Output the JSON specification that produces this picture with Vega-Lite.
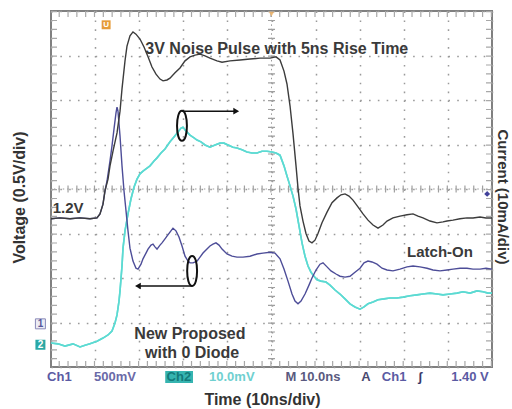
{
  "$schema": "https://vega.github.io/schema/vega-lite/v6.json",
  "width": 441,
  "height": 356,
  "autosize": "none",
  "padding": {"left": 51, "top": 11, "right": 20, "bottom": 42},
  "background": "white",
  "config": {
    "view": {"stroke": "#808080", "strokeWidth": 2},
    "text": {"font": "Liberation Sans"}
  },
  "data": {"values": [{"k": 1}]},
  "datasets": {
    "ch2": [
      {"t":0,"v":-3.46},{"t":1.59,"v":-3.48},{"t":3.17,"v":-3.53},{"t":4.99,"v":-3.48},{"t":6.58,"v":-3.55},{"t":7.71,"v":-3.51},{"t":8.84,"v":-3.48},{"t":10.43,"v":-3.42},{"t":11.79,"v":-3.35},{"t":12.93,"v":-3.28},{"t":13.83,"v":-3.19},{"t":14.51,"v":-3.01},{"t":14.97,"v":-2.83},{"t":15.42,"v":-2.52},{"t":15.65,"v":-2.29},{"t":16.10,"v":-1.73},{"t":16.33,"v":-1.33},{"t":16.78,"v":-0.94},{"t":17.46,"v":-0.56},{"t":18.14,"v":-0.22},{"t":18.82,"v":0.04},{"t":19.50,"v":0.22},{"t":20.18,"v":0.34},{"t":20.86,"v":0.40},{"t":21.77,"v":0.47},{"t":22.45,"v":0.52},{"t":23.36,"v":0.63},{"t":24.04,"v":0.70},{"t":24.94,"v":0.81},{"t":25.85,"v":0.90},{"t":26.98,"v":1.06},{"t":27.89,"v":1.17},{"t":28.80,"v":1.28},{"t":29.48,"v":1.37},{"t":29.93,"v":1.39},{"t":30.61,"v":1.30},{"t":31.52,"v":1.21},{"t":32.43,"v":1.15},{"t":33.11,"v":1.10},{"t":34.01,"v":1.06},{"t":34.92,"v":0.99},{"t":36.05,"v":0.94},{"t":37.19,"v":0.99},{"t":38.32,"v":1.03},{"t":39.23,"v":1.03},{"t":40.14,"v":0.99},{"t":41.27,"v":0.94},{"t":42.18,"v":0.92},{"t":43.31,"v":0.88},{"t":44.44,"v":0.83},{"t":45.58,"v":0.81},{"t":46.71,"v":0.81},{"t":47.85,"v":0.85},{"t":48.98,"v":0.85},{"t":50.11,"v":0.83},{"t":51.02,"v":0.81},{"t":51.93,"v":0.76},{"t":52.83,"v":0.52},{"t":53.51,"v":0.29},{"t":54.20,"v":0.07},{"t":54.88,"v":-0.16},{"t":55.56,"v":-0.45},{"t":56.24,"v":-0.83},{"t":56.92,"v":-1.21},{"t":57.60,"v":-1.51},{"t":58.28,"v":-1.73},{"t":58.96,"v":-1.87},{"t":59.64,"v":-1.96},{"t":60.32,"v":-2.04},{"t":61.22,"v":-2.07},{"t":62.36,"v":-2.09},{"t":63.27,"v":-2.16},{"t":64.40,"v":-2.27},{"t":65.53,"v":-2.36},{"t":66.67,"v":-2.47},{"t":67.80,"v":-2.58},{"t":68.93,"v":-2.65},{"t":70.07,"v":-2.70},{"t":70.98,"v":-2.65},{"t":71.88,"v":-2.58},{"t":73.02,"v":-2.54},{"t":74.15,"v":-2.49},{"t":75.51,"v":-2.47},{"t":76.87,"v":-2.45},{"t":78.46,"v":-2.45},{"t":79.82,"v":-2.43},{"t":81.41,"v":-2.40},{"t":82.99,"v":-2.38},{"t":84.35,"v":-2.36},{"t":85.94,"v":-2.34},{"t":87.53,"v":-2.36},{"t":88.89,"v":-2.38},{"t":90.48,"v":-2.36},{"t":92.06,"v":-2.34},{"t":93.42,"v":-2.31},{"t":95.01,"v":-2.34},{"t":96.60,"v":-2.29},{"t":97.96,"v":-2.31},{"t":99.09,"v":-2.34},{"t":100,"v":-2.34}
    ],
    "ch1": [
      {"t":0,"v":-0.67},{"t":2.04,"v":-0.65},{"t":4.31,"v":-0.67},{"t":6.58,"v":-0.65},{"t":8.84,"v":-0.67},{"t":10.43,"v":-0.65},{"t":11.11,"v":-0.56},{"t":11.79,"v":-0.34},{"t":12.24,"v":-0.04},{"t":12.70,"v":0.18},{"t":13.38,"v":0.63},{"t":13.83,"v":0.97},{"t":14.29,"v":1.35},{"t":14.74,"v":1.71},{"t":14.97,"v":1.84},{"t":15.19,"v":1.75},{"t":15.65,"v":1.19},{"t":16.10,"v":0.52},{"t":16.55,"v":-0.04},{"t":17.01,"v":-0.49},{"t":17.46,"v":-0.94},{"t":17.91,"v":-1.33},{"t":18.59,"v":-1.62},{"t":19.27,"v":-1.78},{"t":19.73,"v":-1.80},{"t":20.41,"v":-1.69},{"t":20.86,"v":-1.57},{"t":21.54,"v":-1.44},{"t":22.0,"v":-1.35},{"t":22.68,"v":-1.26},{"t":23.13,"v":-1.24},{"t":23.58,"v":-1.30},{"t":24.04,"v":-1.35},{"t":24.72,"v":-1.26},{"t":25.17,"v":-1.21},{"t":25.85,"v":-1.12},{"t":26.30,"v":-1.06},{"t":26.98,"v":-0.97},{"t":27.66,"v":-0.88},{"t":28.34,"v":-0.94},{"t":29.02,"v":-1.08},{"t":29.71,"v":-1.28},{"t":30.39,"v":-1.51},{"t":31.07,"v":-1.62},{"t":31.52,"v":-1.66},{"t":32.20,"v":-1.66},{"t":33.11,"v":-1.62},{"t":33.79,"v":-1.53},{"t":34.47,"v":-1.44},{"t":35.37,"v":-1.35},{"t":36.05,"v":-1.28},{"t":36.73,"v":-1.24},{"t":37.41,"v":-1.21},{"t":38.10,"v":-1.26},{"t":38.78,"v":-1.35},{"t":39.91,"v":-1.46},{"t":41.04,"v":-1.51},{"t":42.18,"v":-1.53},{"t":43.54,"v":-1.53},{"t":45.12,"v":-1.51},{"t":46.71,"v":-1.46},{"t":48.07,"v":-1.44},{"t":49.66,"v":-1.42},{"t":50.79,"v":-1.44},{"t":51.93,"v":-1.57},{"t":52.83,"v":-1.80},{"t":53.74,"v":-2.07},{"t":54.65,"v":-2.36},{"t":55.33,"v":-2.52},{"t":56.01,"v":-2.58},{"t":56.69,"v":-2.52},{"t":57.60,"v":-2.36},{"t":58.50,"v":-2.16},{"t":59.18,"v":-2.00},{"t":60.09,"v":-1.82},{"t":61.0,"v":-1.69},{"t":61.68,"v":-1.66},{"t":62.59,"v":-1.75},{"t":63.49,"v":-1.84},{"t":64.63,"v":-1.91},{"t":65.53,"v":-1.96},{"t":66.67,"v":-1.98},{"t":67.80,"v":-1.96},{"t":68.93,"v":-1.87},{"t":70.07,"v":-1.78},{"t":70.98,"v":-1.66},{"t":71.88,"v":-1.62},{"t":72.79,"v":-1.64},{"t":73.92,"v":-1.69},{"t":75.06,"v":-1.78},{"t":76.19,"v":-1.82},{"t":77.55,"v":-1.84},{"t":79.14,"v":-1.80},{"t":80.73,"v":-1.75},{"t":82.09,"v":-1.73},{"t":83.67,"v":-1.75},{"t":85.26,"v":-1.78},{"t":86.62,"v":-1.82},{"t":88.21,"v":-1.84},{"t":89.80,"v":-1.82},{"t":91.16,"v":-1.80},{"t":92.74,"v":-1.78},{"t":94.33,"v":-1.78},{"t":95.69,"v":-1.80},{"t":97.28,"v":-1.80},{"t":98.64,"v":-1.78},{"t":100,"v":-1.80}
    ],
    "pulse": [
      {"t":0,"v":-0.67},{"t":2.04,"v":-0.65},{"t":4.31,"v":-0.67},{"t":6.58,"v":-0.65},{"t":8.84,"v":-0.67},{"t":10.43,"v":-0.65},{"t":11.11,"v":-0.56},{"t":11.79,"v":-0.34},{"t":12.24,"v":-0.04},{"t":12.93,"v":0.22},{"t":13.38,"v":0.52},{"t":14.06,"v":0.85},{"t":14.97,"v":1.26},{"t":15.65,"v":1.75},{"t":16.10,"v":2.25},{"t":16.78,"v":2.88},{"t":17.23,"v":3.21},{"t":17.91,"v":3.44},{"t":18.59,"v":3.53},{"t":19.27,"v":3.48},{"t":20.18,"v":3.37},{"t":21.09,"v":3.19},{"t":22.0,"v":2.97},{"t":22.90,"v":2.74},{"t":23.81,"v":2.58},{"t":24.72,"v":2.47},{"t":25.40,"v":2.43},{"t":26.30,"v":2.45},{"t":26.98,"v":2.49},{"t":28.12,"v":2.61},{"t":29.25,"v":2.72},{"t":30.39,"v":2.88},{"t":31.52,"v":2.97},{"t":32.65,"v":3.01},{"t":33.79,"v":3.03},{"t":34.92,"v":2.99},{"t":36.05,"v":2.94},{"t":37.64,"v":2.88},{"t":38.78,"v":2.85},{"t":40.59,"v":2.88},{"t":42.86,"v":2.90},{"t":45.12,"v":2.92},{"t":47.39,"v":2.94},{"t":49.66,"v":2.94},{"t":51.02,"v":2.97},{"t":51.93,"v":2.90},{"t":52.83,"v":2.65},{"t":53.51,"v":2.36},{"t":54.20,"v":1.87},{"t":54.88,"v":1.24},{"t":55.56,"v":0.52},{"t":56.01,"v":0.02},{"t":56.46,"v":-0.38},{"t":57.14,"v":-0.72},{"t":57.82,"v":-1.0},{"t":58.50,"v":-1.17},{"t":59.18,"v":-1.21},{"t":59.86,"v":-1.15},{"t":60.54,"v":-1.0},{"t":61.45,"v":-0.76},{"t":62.59,"v":-0.52},{"t":63.72,"v":-0.31},{"t":64.85,"v":-0.2},{"t":65.76,"v":-0.13},{"t":66.67,"v":-0.11},{"t":67.57,"v":-0.16},{"t":68.48,"v":-0.25},{"t":69.61,"v":-0.40},{"t":70.75,"v":-0.56},{"t":71.88,"v":-0.70},{"t":73.02,"v":-0.81},{"t":74.15,"v":-0.88},{"t":75.28,"v":-0.81},{"t":76.19,"v":-0.72},{"t":77.55,"v":-0.65},{"t":79.14,"v":-0.61},{"t":80.73,"v":-0.58},{"t":82.09,"v":-0.56},{"t":83.22,"v":-0.61},{"t":84.35,"v":-0.65},{"t":85.94,"v":-0.72},{"t":87.53,"v":-0.76},{"t":88.89,"v":-0.74},{"t":89.80,"v":-0.72},{"t":91.16,"v":-0.70},{"t":92.74,"v":-0.67},{"t":94.33,"v":-0.65},{"t":95.69,"v":-0.65},{"t":97.28,"v":-0.63},{"t":98.64,"v":-0.65},{"t":100,"v":-0.65}
    ]
  },
  "layer": [
    {
      "data": {"name": "ch2"},
      "mark": {"type": "line", "color": "#5cdad2", "strokeWidth": 1.6},
      "encoding": {
        "x": {"field": "t", "type": "quantitative",
          "scale": {"domain": [0, 100], "nice": false, "zero": false},
          "axis": {"values": [0,10,20,30,40,50,60,70,80,90,100], "grid": true, "gridColor": "#9a9a9a", "gridDash": [1.6, 7.3], "gridWidth": 1.5,
            "labels": false, "ticks": false, "domain": false,
            "title": "Time (10ns/div)", "titleFont": "Liberation Sans", "titleFontSize": 16, "titleFontWeight": "bold", "titleColor": "#333333", "titlePadding": 24, "titleX": 211}},
        "y": {"field": "v", "type": "quantitative",
          "scale": {"domain": [-4, 4], "nice": false, "zero": false},
          "axis": {"values": [-4,-3,-2,-1,0,1,2,3,4], "grid": true, "gridColor": "#9a9a9a", "gridDash": [1.6, 7.22], "gridWidth": 1.5,
            "labels": false, "ticks": false, "domain": false,
            "title": "Voltage (0.5V/div)", "titleFont": "Liberation Sans", "titleFontSize": 16, "titleFontWeight": "bold", "titleColor": "#333333",
            "titleAngle": 270, "titleX": -32, "titleY": 186, "titleAlign": "center", "titleBaseline": "middle"}}
      }
    },
    {"mark": {"type": "rule", "color": "#9a9a9a", "strokeWidth": 1, "strokeDash": [1.5, 2.95]}, "encoding": {"x": {"datum": 50}}},
    {"mark": {"type": "rule", "color": "#a0a0a0", "strokeWidth": 7, "strokeDash": [1.2, 7.7]}, "encoding": {"x": {"datum": 50}}},
    {"mark": {"type": "rule", "color": "#9a9a9a", "strokeWidth": 1, "strokeDash": [1.5, 2.91]}, "encoding": {"y": {"datum": 0}}},
    {"mark": {"type": "rule", "color": "#a0a0a0", "strokeWidth": 7, "strokeDash": [1.2, 7.62]}, "encoding": {"y": {"datum": 0}}},
    {"mark": {"type": "rule", "color": "#a8a8a8", "strokeWidth": 6, "strokeDash": [1.2, 7.7], "xOffset": 3}, "encoding": {"x": {"datum": 0}}},
    {"mark": {"type": "rule", "color": "#a8a8a8", "strokeWidth": 6, "strokeDash": [1.2, 7.7], "xOffset": -3}, "encoding": {"x": {"datum": 100}}},
    {"mark": {"type": "rule", "color": "#a8a8a8", "strokeWidth": 6, "strokeDash": [1.2, 7.62], "yOffset": 3}, "encoding": {"y": {"datum": 4}}},
    {"mark": {"type": "rule", "color": "#a8a8a8", "strokeWidth": 6, "strokeDash": [1.2, 7.62], "yOffset": -3}, "encoding": {"y": {"datum": -4}}},
    {
      "data": {"name": "ch2"},
      "mark": {"type": "line", "color": "#5cdad2", "strokeWidth": 1.6},
      "encoding": {"x": {"field": "t", "type": "quantitative"}, "y": {"field": "v", "type": "quantitative"}}
    },
    {
      "data": {"name": "ch1"},
      "mark": {"type": "line", "color": "#4d4d98", "strokeWidth": 1.4},
      "encoding": {"x": {"field": "t", "type": "quantitative"}, "y": {"field": "v", "type": "quantitative"}}
    },
    {
      "data": {"name": "pulse"},
      "mark": {"type": "line", "color": "#3c3c3c", "strokeWidth": 1.4},
      "encoding": {"x": {"field": "t", "type": "quantitative"}, "y": {"field": "v", "type": "quantitative"}}
    },
    {"mark": {"type": "text", "fontSize": 16, "fontWeight": "bold", "color": "#3a3a3a", "align": "center", "baseline": "middle"},
     "encoding": {"x": {"datum": 51.2}, "y": {"datum": 3.15}, "text": {"value": "3V Noise Pulse with 5ns Rise Time"}}},
    {"mark": {"type": "text", "fontSize": 15, "fontWeight": "bold", "color": "#3a3a3a", "align": "left", "baseline": "middle"},
     "encoding": {"x": {"datum": 0.4}, "y": {"datum": -0.43}, "text": {"value": "1.2V"}}},
    {"mark": {"type": "text", "fontSize": 15, "fontWeight": "bold", "color": "#3a3a3a", "align": "center", "baseline": "middle"},
     "encoding": {"x": {"datum": 88.2}, "y": {"datum": -1.42}, "text": {"value": "Latch-On"}}},
    {"mark": {"type": "text", "fontSize": 16, "fontWeight": "bold", "color": "#3a3a3a", "align": "center", "baseline": "middle"},
     "encoding": {"x": {"datum": 31.5}, "y": {"datum": -3.26}, "text": {"value": "New Proposed"}}},
    {"mark": {"type": "text", "fontSize": 16, "fontWeight": "bold", "color": "#3a3a3a", "align": "center", "baseline": "middle"},
     "encoding": {"x": {"datum": 32.0}, "y": {"datum": -3.69}, "text": {"value": "with 0 Diode"}}},
    {"mark": {"type": "text", "fontSize": 15, "fontWeight": "bold", "color": "#333333", "align": "center", "baseline": "middle", "angle": 90},
     "encoding": {"x": {"datum": 102.4}, "y": {"datum": -0.18}, "text": {"value": "Current (10mA/div)"}}},
    {"mark": {"type": "point", "shape": "M0,-1C0.44,-1,0.44,1,0,1C-0.44,1,-0.44,-1,0,-1Z", "filled": false, "size": 900, "stroke": "#111111", "strokeWidth": 2, "opacity": 1},
     "encoding": {"x": {"datum": 29.7}, "y": {"datum": 1.42}}},
    {"mark": {"type": "point", "shape": "M0,-1C0.44,-1,0.44,1,0,1C-0.44,1,-0.44,-1,0,-1Z", "filled": false, "size": 900, "stroke": "#111111", "strokeWidth": 2, "opacity": 1},
     "encoding": {"x": {"datum": 32.0}, "y": {"datum": -1.84}}},
    {"mark": {"type": "rule", "color": "#111111", "strokeWidth": 1.5},
     "encoding": {"x": {"datum": 29.7}, "x2": {"datum": 41.5}, "y": {"datum": 1.75}}},
    {"mark": {"type": "point", "shape": "triangle-right", "filled": true, "size": 45, "color": "#111111", "opacity": 1},
     "encoding": {"x": {"datum": 42.0}, "y": {"datum": 1.75}}},
    {"mark": {"type": "rule", "color": "#111111", "strokeWidth": 1.5},
     "encoding": {"x": {"datum": 20.2}, "x2": {"datum": 32.0}, "y": {"datum": -2.18}}},
    {"mark": {"type": "point", "shape": "triangle-left", "filled": true, "size": 45, "color": "#111111", "opacity": 1},
     "encoding": {"x": {"datum": 19.7}, "y": {"datum": -2.18}}},
    {"mark": {"type": "point", "shape": "square", "filled": true, "size": 100, "color": "#ececf4", "stroke": "#8a8ab8", "strokeWidth": 1, "opacity": 1},
     "encoding": {"x": {"datum": -2.4}, "y": {"datum": -3.03}}},
    {"mark": {"type": "text", "fontSize": 10, "fontWeight": "bold", "color": "#55559a", "align": "center", "baseline": "middle"},
     "encoding": {"x": {"datum": -2.4}, "y": {"datum": -3.03}, "text": {"value": "1"}}},
    {"mark": {"type": "point", "shape": "square", "filled": true, "size": 100, "color": "#2aa8a6", "opacity": 1},
     "encoding": {"x": {"datum": -2.4}, "y": {"datum": -3.5}}},
    {"mark": {"type": "text", "fontSize": 10, "fontWeight": "bold", "color": "#ffffff", "align": "center", "baseline": "middle"},
     "encoding": {"x": {"datum": -2.4}, "y": {"datum": -3.5}, "text": {"value": "2"}}},
    {"mark": {"type": "point", "shape": "square", "filled": true, "size": 80, "color": "#e69b3a", "opacity": 1},
     "encoding": {"x": {"datum": 12.5}, "y": {"datum": 3.69}}},
    {"mark": {"type": "text", "fontSize": 8, "fontWeight": "bold", "color": "#ffffff", "align": "center", "baseline": "middle"},
     "encoding": {"x": {"datum": 12.5}, "y": {"datum": 3.69}, "text": {"value": "U"}}},
    {"mark": {"type": "point", "shape": "triangle-down", "filled": true, "size": 30, "color": "#f0b060", "opacity": 0.8, "yOffset": 3},
     "encoding": {"x": {"datum": 50}, "y": {"datum": 4}}},
    {"mark": {"type": "point", "shape": "diamond", "filled": true, "size": 35, "color": "#40409a", "opacity": 1},
     "encoding": {"x": {"datum": 98.9}, "y": {"datum": -0.11}}},
    {"mark": {"type": "rect", "color": "#36b4b0"},
     "encoding": {"x": {"datum": 25.9}, "x2": {"datum": 32.2}, "y": {"datum": -4.09}, "y2": {"datum": -4.36}}},
    {"mark": {"type": "text", "fontSize": 13, "fontWeight": "bold", "color": "#5b5ba3", "align": "center", "baseline": "middle"},
     "encoding": {"x": {"datum": 1.9}, "y": {"datum": -4.22}, "text": {"value": "Ch1"}}},
    {"mark": {"type": "text", "fontSize": 13, "fontWeight": "bold", "color": "#6a6aa8", "align": "center", "baseline": "middle"},
     "encoding": {"x": {"datum": 14.5}, "y": {"datum": -4.22}, "text": {"value": "500mV"}}},
    {"mark": {"type": "text", "fontSize": 13, "fontWeight": "bold", "color": "#137a7a", "align": "center", "baseline": "middle"},
     "encoding": {"x": {"datum": 29.0}, "y": {"datum": -4.22}, "text": {"value": "Ch2"}}},
    {"mark": {"type": "text", "fontSize": 13, "fontWeight": "bold", "color": "#6fd0d0", "align": "center", "baseline": "middle"},
     "encoding": {"x": {"datum": 41.0}, "y": {"datum": -4.22}, "text": {"value": "10.0mV"}}},
    {"mark": {"type": "text", "fontSize": 13, "fontWeight": "bold", "color": "#5a5a80", "align": "center", "baseline": "middle"},
     "encoding": {"x": {"datum": 59.4}, "y": {"datum": -4.22}, "text": {"value": "M 10.0ns"}}},
    {"mark": {"type": "text", "fontSize": 13, "fontWeight": "bold", "color": "#4a4a70", "align": "center", "baseline": "middle"},
     "encoding": {"x": {"datum": 71.4}, "y": {"datum": -4.22}, "text": {"value": "A"}}},
    {"mark": {"type": "text", "fontSize": 13, "fontWeight": "bold", "color": "#5b5ba3", "align": "center", "baseline": "middle"},
     "encoding": {"x": {"datum": 77.8}, "y": {"datum": -4.22}, "text": {"value": "Ch1"}}},
    {"mark": {"type": "text", "fontSize": 13, "fontWeight": "bold", "color": "#3a3a6a", "align": "center", "baseline": "middle"},
     "encoding": {"x": {"datum": 83.7}, "y": {"datum": -4.22}, "text": {"value": "ʃ"}}},
    {"mark": {"type": "text", "fontSize": 13, "fontWeight": "bold", "color": "#5b5ba3", "align": "center", "baseline": "middle"},
     "encoding": {"x": {"datum": 95.0}, "y": {"datum": -4.22}, "text": {"value": "1.40 V"}}}
  ]
}
